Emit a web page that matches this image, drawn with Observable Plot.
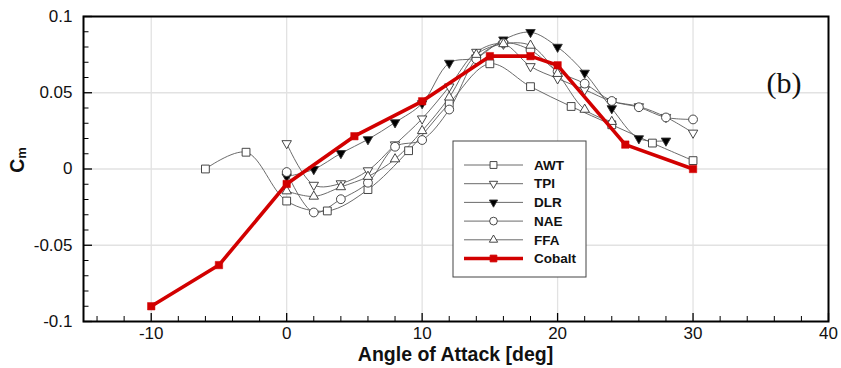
<!DOCTYPE html>
<html><head><meta charset="utf-8">
<script src="https://cdn.jsdelivr.net/npm/d3@7"></script>
<script src="https://cdn.jsdelivr.net/npm/@observablehq/plot@0.6"></script>
<style>body{margin:0;background:#fff;} svg{display:block}</style>
</head><body><div id="chart"></div>
<script>
// ---- data ----
const awtX = [-6,-3,0,3,6,9,12,15,18,21,24,27,30];
const awtY = [0,0.011,-0.021,-0.0275,-0.0135,0.012,0.043,0.069,0.054,0.041,0.029,0.017,0.0055];
const tpiX = [0,2,4,6,8,10,12,14,16,18,20,22,24,26,28,30];
const tpiY = [0.0168,-0.0105,-0.0095,-0.001,0.016,0.033,0.054,0.0767,0.082,0.0673,0.0593,0.052,0.0444,0.041,0.034,0.0237];
const dlrX = [0,2,4,6,8,10,12,14,16,18,20,22,24,26,28];
const dlrY = [-0.005,-0.0002,0.0103,0.0194,0.0305,0.043,0.0695,0.073,0.0848,0.0897,0.080,0.063,0.0397,0.020,0.0185];
const naeX = [0,2,4,6,8,10,12,14,16,18,20,22,24,26,28,30];
const naeY = [-0.002,-0.0285,-0.0198,-0.009,0.0146,0.019,0.039,0.072,0.0826,0.078,0.064,0.056,0.0446,0.0405,0.0338,0.0325];
const ffaX = [0,2,4,6,8,10,12,14,16,18,20,22,24];
const ffaY = [-0.0145,-0.018,-0.0118,-0.005,0.0065,0.025,0.047,0.075,0.082,0.081,0.0625,0.039,0.031];
const cobaltX = [-10,-5,0,5,10,15,18,20,25,30];
const cobaltY = [-0.09,-0.063,-0.0098,0.0215,0.0444,0.074,0.074,0.068,0.016,0];

const seriesNames = ["AWT","TPI","DLR","NAE","FFA","Cobalt"];
const xMajor = [-10,0,10,20,30,40];
const xMinor = [-14,-12,-8,-6,-4,-2,2,4,6,8,12,14,16,18,22,24,26,28,32,34,36,38];
const yMajor = [-0.1,-0.05,0,0.05,0.1];
const yMinor = [-0.09,-0.08,-0.07,-0.06,-0.04,-0.03,-0.02,-0.01,0.01,0.02,0.03,0.04,0.06,0.07,0.08,0.09];
const xGrid = [-10,0,10,20,30];
const yGrid = [-0.05,0,0.05];
const xLabel = "Angle of Attack [deg]";
const panelLabel = "(b)";

// ---- build table ----
const pack = (name, xs, ys) => xs.map((x,i)=>({series:name, x, y:ys[i]}));
const awt = pack("AWT", awtX, awtY);
const tpi = pack("TPI", tpiX, tpiY);
const dlr = pack("DLR", dlrX, dlrY);
const nae = pack("NAE", naeX, naeY);
const ffa = pack("FFA", ffaX, ffaY);
const cobalt = pack("Cobalt", cobaltX, cobaltY);
const exp = [...awt, ...tpi, ...dlr, ...nae, ...ffa];

const W = 841, H = 368, mL = 83, mR = 13, mT = 16, mB = 47;
const pw = W - mL - mR, ph = H - mT - mB;
const RED = "#d20000";
const GREY = "#5a5a5a";
const MK = "#333";
const fmt = d => String(d);

const styles = {
  AWT: {symbol:"square", r:4.4, fill:"white", rotate:0},
  TPI: {symbol:"triangle", r:3.5, fill:"white", rotate:180},
  DLR: {symbol:"triangle", r:3.5, fill:"black", rotate:180},
  NAE: {symbol:"circle", r:4.4, fill:"white", rotate:0},
  FFA: {symbol:"triangle", r:3.5, fill:"white", rotate:0}
};
const dotsFor = (data, name) => Plot.dot(data, {x:"x", y:"y", symbol: styles[name].symbol, r: styles[name].r,
  fill: styles[name].fill, stroke: MK, strokeWidth: 0.9, rotate: styles[name].rotate});

const chart = Plot.plot({
  width: W, height: H,
  marginLeft: mL, marginRight: mR, marginTop: mT, marginBottom: mB,
  style: {fontFamily: "'Liberation Sans', Arial, sans-serif", fontSize: "17px", background: "white", overflow: "visible"},
  x: {domain: [-15, 40]},
  y: {domain: [-0.1, 0.1]},
  marks: [
    Plot.ruleX(xGrid, {x: d=>d, stroke: "#e2e2e2", strokeWidth: 1.3}),
    Plot.ruleY(yGrid, {y: d=>d, stroke: "#e2e2e2", strokeWidth: 1.3}),
    Plot.tickX(xMajor, {x: d=>d, insetTop: ph - 8, stroke: "black", strokeWidth: 1.3}),
    Plot.tickX(xMinor, {x: d=>d, insetTop: ph - 5, stroke: "black", strokeWidth: 1}),
    Plot.tickY(yMajor, {y: d=>d, insetRight: pw - 9, stroke: "black", strokeWidth: 1.3}),
    Plot.tickY(yMinor, {y: d=>d, insetRight: pw - 5.5, stroke: "black", strokeWidth: 1}),
    Plot.axisX(xMajor, {tickSize: 0, tickPadding: 5, tickFormat: fmt, label: null, fontSize: 17, fill: "#111"}),
    Plot.axisY(yMajor, {tickSize: 0, tickPadding: 11, tickFormat: fmt, label: null, fontSize: 17, fill: "#111"}),
    Plot.line(exp, {x:"x", y:"y", z:"series", curve:"catmull-rom", stroke: GREY, strokeWidth: 0.9}),
    dotsFor(awt, "AWT"),
    dotsFor(tpi, "TPI"),
    dotsFor(dlr, "DLR"),
    dotsFor(nae, "NAE"),
    dotsFor(ffa, "FFA"),
    Plot.line(cobalt, {x:"x", y:"y", stroke: RED, strokeWidth: 3.6, curve: "linear"}),
    Plot.dot(cobalt, {x:"x", y:"y", symbol:"square", r:4.2, fill: RED, stroke: RED, strokeWidth: 0.5}),
    Plot.frame({stroke: "black", strokeWidth: 2})
  ]
});
document.getElementById("chart").appendChild(chart);

// ---- annotations: axis titles, panel label, legend ----
const svg = d3.select(chart);
svg.append("text")
  .attr("x", (mL + W - mR)/2).attr("y", 361)
  .attr("text-anchor","middle")
  .attr("font-family","'Liberation Sans', Arial, sans-serif")
  .attr("font-weight","bold").attr("font-size", 19.5).attr("fill","#111")
  .text(xLabel);

const yl = svg.append("text")
  .attr("transform","translate(24,160) rotate(-90)")
  .attr("text-anchor","middle")
  .attr("font-family","'Liberation Sans', Arial, sans-serif")
  .attr("font-weight","bold").attr("font-size", 19.5).attr("fill","#111");
yl.append("tspan").text("C");
yl.append("tspan").attr("font-size", 13).attr("dy", 2).text("m");

svg.append("text")
  .attr("x", 784).attr("y", 93)
  .attr("text-anchor","middle")
  .attr("font-family","'Liberation Serif', 'Times New Roman', serif")
  .attr("font-size", 30).attr("fill","#111")
  .text(panelLabel);

// legend
const lg = svg.append("g");
lg.append("rect").attr("x",453).attr("y",141).attr("width",133).attr("height",136)
  .attr("fill","white").attr("stroke","#444").attr("stroke-width",1);
const sym = {
  square: d3.symbolSquare, triangle: d3.symbolTriangle, circle: d3.symbolCircle
};
seriesNames.forEach((name, i) => {
  const y = 165 + i*18.7;
  const isC = name === "Cobalt";
  lg.append("line").attr("x1",464).attr("x2",523).attr("y1",y).attr("y2",y)
    .attr("stroke", isC ? RED : GREY).attr("stroke-width", isC ? 3.6 : 0.9);
  let path, fill, stroke, rot = 0;
  if (isC) { path = d3.symbol(d3.symbolSquare, Math.PI*3.8*3.8)(); fill = RED; stroke = RED; }
  else {
    const s = styles[name];
    const rr = s.r * 0.88;
    path = d3.symbol(sym[s.symbol], Math.PI*rr*rr)(); fill = s.fill; stroke = MK; rot = s.rotate;
  }
  lg.append("path").attr("d", path)
    .attr("transform", `translate(493.5,${y}) rotate(${rot})`)
    .attr("fill", fill).attr("stroke", stroke).attr("stroke-width", 0.9);
  lg.append("text").attr("x",534).attr("y",y).attr("dy","0.35em")
    .attr("text-anchor","start")
    .attr("font-family","'Liberation Sans', Arial, sans-serif")
    .attr("font-weight","bold").attr("font-size",13.5).attr("fill","#111")
    .text(name);
});
</script>
</body></html>
